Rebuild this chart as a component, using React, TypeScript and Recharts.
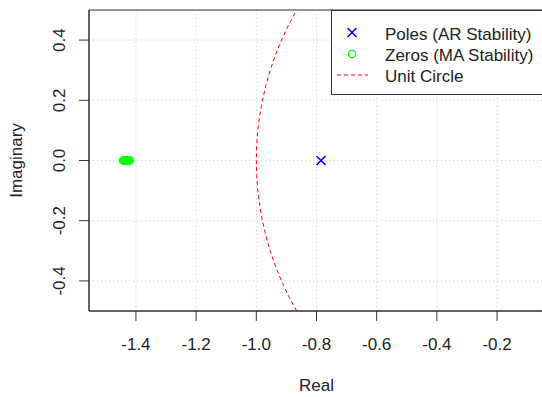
import React from 'react';
import { ScatterChart, Scatter, XAxis, YAxis, CartesianGrid, ReferenceArea } from 'recharts';

// axis ticks
const realTicks = [-1.4, -1.2, -1.0, -0.8, -0.6, -0.4, -0.2];
const imagTicks = [-0.4, -0.2, 0.0, 0.2, 0.4];

// AR roots (poles)
const poleReal = [-0.785];
const poleImag = [0];

// MA roots (zeros), tight cluster near -1.43
const zeroReal = [-1.443, -1.440, -1.437, -1.433, -1.430, -1.427, -1.423, -1.420];
const zeroImag = [0, 0, 0, 0, 0, 0, 0, 0];

// unit circle, left arc (visible part)
const circleReal = [-0.8352, -0.866, -0.893, -0.9165, -0.9367, -0.9539, -0.9682, -0.9798, -0.9887, -0.995, -0.9987, -1.0,
  -0.9987, -0.995, -0.9887, -0.9798, -0.9682, -0.9539, -0.9367, -0.9165, -0.893, -0.866, -0.8352];
const circleImag = [0.55, 0.5, 0.45, 0.4, 0.35, 0.3, 0.25, 0.2, 0.15, 0.1, 0.05, 0,
  -0.05, -0.1, -0.15, -0.2, -0.25, -0.3, -0.35, -0.4, -0.45, -0.5, -0.55];

const legendNames = ['Poles (AR Stability)', 'Zeros (MA Stability)', 'Unit Circle'];

const zip = (xs: number[], ys: number[]) => xs.map((x, i) => ({ x, y: ys[i] }));
const poles = zip(poleReal, poleImag);
const zeros = zip(zeroReal, zeroImag);
const circle = zip(circleReal, circleImag);

const X_DOMAIN = [-1.556, -0.044];
const Y_DOMAIN = [-0.5, 0.5];
const FONT = '"Liberation Sans", Arial, sans-serif';
const TEXT = '#222';

const XTick = ({ x, y, payload }: any) => (
  <text x={x} y={y} dy={29} textAnchor="middle" fontSize={17} fill={TEXT} fontFamily={FONT}>
    {payload.value.toFixed(1)}
  </text>
);

const YTick = ({ x, y, payload }: any) => {
  const bx = x - 14;
  return (
    <text x={bx} y={y} transform={`rotate(-90 ${bx} ${y})`} textAnchor="middle" fontSize={17} fill={TEXT} fontFamily={FONT}>
      {payload.value.toFixed(1)}
    </text>
  );
};

const Cross = ({ cx, cy }: any) => (
  <g stroke="#0000ff" strokeWidth={1.6}>
    <line x1={cx - 4.5} y1={cy - 4.5} x2={cx + 4.5} y2={cy + 4.5} />
    <line x1={cx - 4.5} y1={cy + 4.5} x2={cx + 4.5} y2={cy - 4.5} />
  </g>
);

const Ring = ({ cx, cy }: any) => (
  <circle cx={cx} cy={cy} r={3.6} fill="none" stroke="#00ff00" strokeWidth={1.3} />
);

const Legend = () => (
  <svg width={220} height={86} style={{ position: 'absolute', left: 331, top: 10 }}>
    <rect x={0.5} y={0.5} width={212} height={84} fill="#fff" stroke="#333" strokeWidth={1} />
    <Cross cx={21} cy={22.5} />
    <Ring cx={21} cy={44} />
    <line x1={6} y1={65} x2={37} y2={65} stroke="#ff0000" strokeWidth={1} strokeDasharray="4 3" />
    {legendNames.map((n, i) => (
      <text key={n} x={54} y={30 + i * 20.8} fontSize={17} fill={TEXT} fontFamily={FONT}>{n}</text>
    ))}
  </svg>
);

export default function App() {
  return (
    <div style={{ position: 'absolute', left: 0, top: 0, width: 542, height: 397, overflow: 'hidden', background: '#fff' }}>
      <ScatterChart width={546} height={397} margin={{ top: 10, right: 2, bottom: 0, left: 0 }}>
        <CartesianGrid stroke="#c8c8c8" strokeDasharray="1 3" />
        <XAxis
          type="number"
          dataKey="x"
          domain={X_DOMAIN}
          ticks={realTicks}
          allowDataOverflow
          height={86}
          tickSize={10}
          tickMargin={0}
          stroke="#333"
          tick={<XTick />}
          label={(p: any) => {
            const vb = p.viewBox;
            return (
              <text x={vb.x + vb.width / 2} y={vb.y + 80} textAnchor="middle" fontSize={17} fill={TEXT} fontFamily={FONT}>Real</text>
            );
          }}
        />
        <YAxis
          type="number"
          dataKey="y"
          domain={Y_DOMAIN}
          ticks={imagTicks}
          allowDataOverflow
          width={89}
          tickSize={10}
          tickMargin={0}
          stroke="#333"
          tick={<YTick />}
          label={(p: any) => {
            const vb = p.viewBox;
            const cy = vb.y + vb.height / 2;
            return (
              <text x={22} y={cy} transform={`rotate(-90 22 ${cy})`} textAnchor="middle" fontSize={17} fill={TEXT} fontFamily={FONT}>Imaginary</text>
            );
          }}
        />
        <ReferenceArea x1={X_DOMAIN[0]} x2={X_DOMAIN[1]} y1={Y_DOMAIN[0]} y2={Y_DOMAIN[1]} fill="none" stroke="#333" strokeWidth={1} fillOpacity={0} />
        <Scatter
          data={circle}
          fill="#ff0000"
          line={{ stroke: '#ff0000', strokeWidth: 1, strokeDasharray: '4 3' }}
          shape={() => <g />}
          isAnimationActive={false}
        />
        <Scatter data={zeros} fill="#00ff00" shape={<Ring />} isAnimationActive={false} />
        <Scatter data={poles} fill="#0000ff" shape={<Cross />} isAnimationActive={false} />
      </ScatterChart>
      <Legend />
    </div>
  );
}
